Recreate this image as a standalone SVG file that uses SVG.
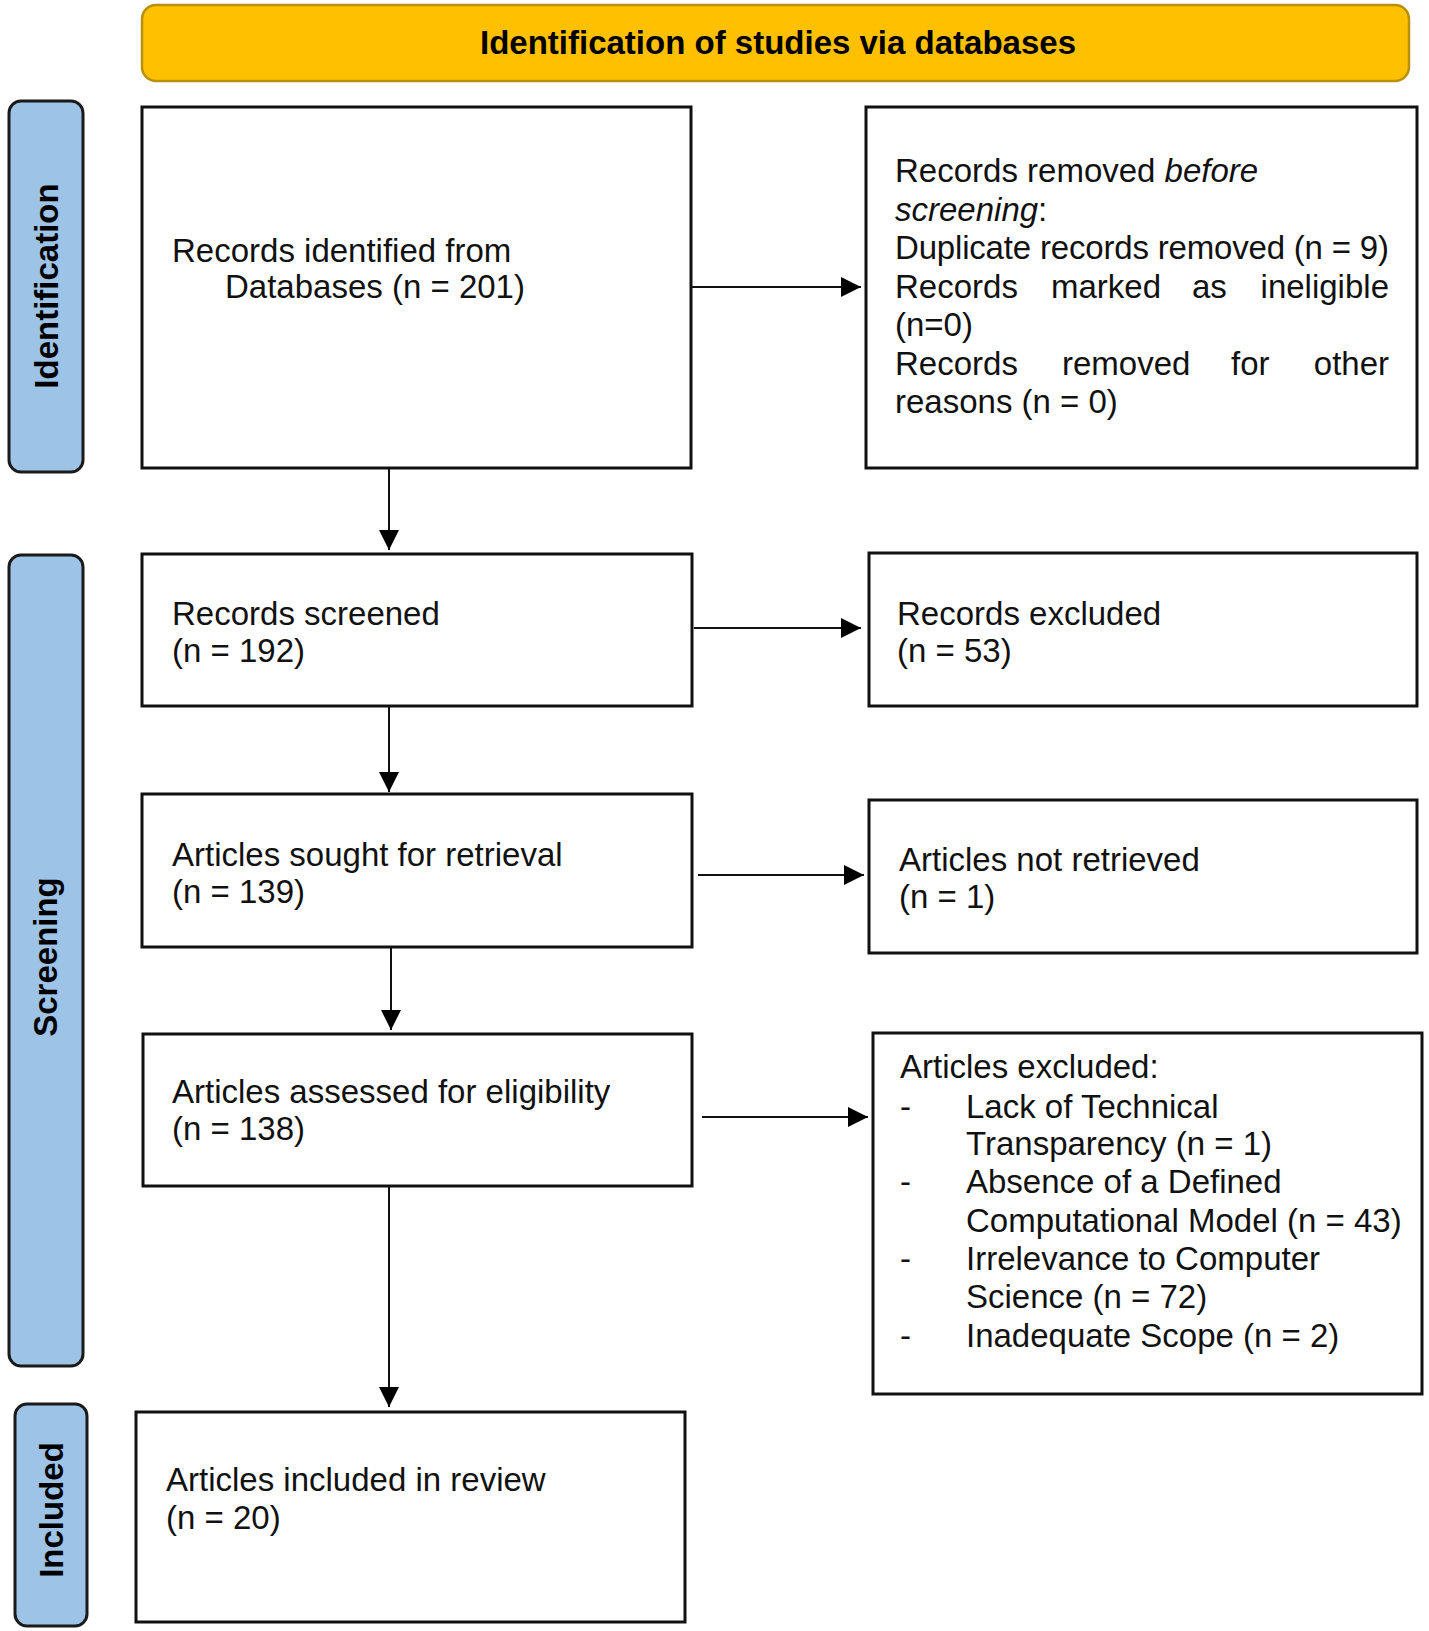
<svg xmlns="http://www.w3.org/2000/svg" width="1429" height="1631" viewBox="0 0 1429 1631">
<defs>
<style>
.box{fill:#fff;stroke:#111;stroke-width:3}
.side{fill:#9DC3E6;stroke:#1a1a1a;stroke-width:3}
.t{font-family:"Liberation Sans",Arial,sans-serif;font-size:33px;fill:#111}
.b{font-family:"Liberation Sans",Arial,sans-serif;font-size:33px;font-weight:bold;fill:#000}
.i{font-style:italic}
.conn{stroke:#111;stroke-width:2;fill:none;marker-end:url(#ah)}
</style>
<marker id="ah" markerUnits="userSpaceOnUse" markerWidth="22" markerHeight="22" refX="20" refY="10" orient="auto">
<path d="M0,0 L20,10 L0,20 Z" fill="#000"/>
</marker>
</defs>
<rect width="1429" height="1631" fill="#fff"/>

<g id="title">
<rect x="142" y="5" width="1267" height="76" rx="14" fill="#FFC000" stroke="#B8900A" stroke-width="2.5"/>
<text class="b" x="778" y="54" text-anchor="middle">Identification of studies via databases</text>
</g>

<g id="phase-identification">
<rect class="side" x="9" y="101" width="74" height="371" rx="12"/>
<text class="b" transform="translate(58,286) rotate(-90)" text-anchor="middle">Identification</text>
</g>
<g id="phase-screening">
<rect class="side" x="9" y="555" width="74" height="811" rx="12"/>
<text class="b" transform="translate(57,957) rotate(-90)" text-anchor="middle">Screening</text>
</g>
<g id="phase-included">
<rect class="side" x="15" y="1404" width="72" height="222" rx="12"/>
<text class="b" transform="translate(63,1510) rotate(-90)" text-anchor="middle">Included</text>
</g>

<g id="connectors">
<line class="conn" x1="389" y1="469" x2="389" y2="550"/>
<line class="conn" x1="389" y1="707" x2="389" y2="792"/>
<line class="conn" x1="391" y1="948" x2="391" y2="1030"/>
<line class="conn" x1="389" y1="1187" x2="389" y2="1407"/>
<line class="conn" x1="692" y1="287" x2="861" y2="287"/>
<line class="conn" x1="694" y1="628" x2="861" y2="628"/>
<line class="conn" x1="698" y1="875" x2="864" y2="875"/>
<line class="conn" x1="702" y1="1117" x2="868" y2="1117"/>
</g>

<g id="records-identified">
<rect class="box" x="142" y="107" width="549" height="361"/>
<text class="t" x="172" y="262">Records identified from</text>
<text class="t" x="225" y="298">Databases (n = 201)</text>
</g>

<g id="records-removed">
<rect class="box" x="866" y="107" width="551" height="361"/>
<text class="t" x="895" y="182">Records removed <tspan class="i">before</tspan></text>
<text class="t" x="895" y="220.5"><tspan class="i">screening</tspan>:</text>
<text class="t" x="895" y="259" textLength="494" lengthAdjust="spacing">Duplicate records removed (n = 9)</text>
<text class="t" y="297.5"><tspan x="895">Records</tspan><tspan x="1051">marked</tspan><tspan x="1192">as</tspan></text>
<text class="t" x="1389" y="297.5" text-anchor="end">ineligible</text>
<text class="t" x="895" y="336">(n=0)</text>
<text class="t" y="374.5"><tspan x="895">Records</tspan><tspan x="1062">removed</tspan><tspan x="1231">for</tspan></text>
<text class="t" x="1389" y="374.5" text-anchor="end">other</text>
<text class="t" x="895" y="413">reasons (n = 0)</text>
</g>

<g id="records-screened">
<rect class="box" x="142" y="554" width="550" height="152"/>
<text class="t" x="172" y="625">Records screened</text>
<text class="t" x="172" y="662">(n = 192)</text>
</g>

<g id="records-excluded">
<rect class="box" x="869" y="553" width="548" height="153"/>
<text class="t" x="897" y="625">Records excluded</text>
<text class="t" x="897" y="662">(n = 53)</text>
</g>

<g id="articles-sought">
<rect class="box" x="142" y="794" width="550" height="153"/>
<text class="t" x="172" y="866">Articles sought for retrieval</text>
<text class="t" x="172" y="903">(n = 139)</text>
</g>

<g id="articles-not-retrieved">
<rect class="box" x="869" y="800" width="548" height="153"/>
<text class="t" x="899" y="871">Articles not retrieved</text>
<text class="t" x="899" y="908">(n = 1)</text>
</g>

<g id="articles-assessed">
<rect class="box" x="143" y="1034" width="549" height="152"/>
<text class="t" x="172" y="1103">Articles assessed for eligibility</text>
<text class="t" x="172" y="1140">(n = 138)</text>
</g>

<g id="articles-excluded">
<rect class="box" x="873" y="1033" width="549" height="361"/>
<text class="t" x="900" y="1078">Articles excluded:</text>
<text class="t" x="900" y="1118">-</text>
<text class="t" x="966" y="1118">Lack of Technical</text>
<text class="t" x="966" y="1155">Transparency (n = 1)</text>
<text class="t" x="900" y="1193">-</text>
<text class="t" x="966" y="1193">Absence of a Defined</text>
<text class="t" x="966" y="1232">Computational Model (n = 43)</text>
<text class="t" x="900" y="1270">-</text>
<text class="t" x="966" y="1270">Irrelevance to Computer</text>
<text class="t" x="966" y="1308">Science (n = 72)</text>
<text class="t" x="900" y="1347">-</text>
<text class="t" x="966" y="1347">Inadequate Scope (n = 2)</text>
</g>

<g id="articles-included">
<rect class="box" x="136" y="1412" width="549" height="210"/>
<text class="t" x="166" y="1491">Articles included in review</text>
<text class="t" x="166" y="1529">(n = 20)</text>
</g>
</svg>
